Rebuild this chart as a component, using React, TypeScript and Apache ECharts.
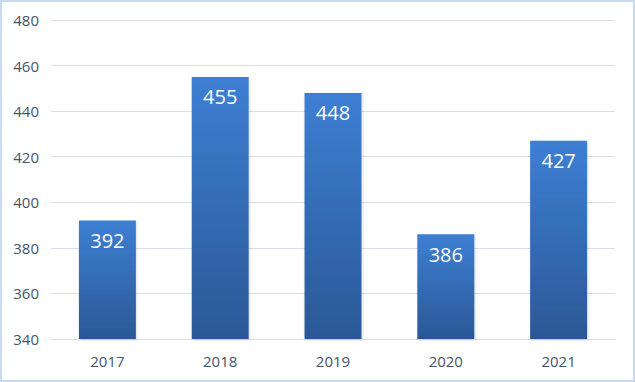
import React, { useEffect, useRef } from "react";
import * as echarts from "echarts";

const years = ["2017", "2018", "2019", "2020", "2021"];
const values = [392, 455, 448, 386, 427];
const yMin = 340;
const yMax = 480;
const yStep = 20;

export default function App() {
  const ref = useRef<HTMLDivElement>(null);
  useEffect(() => {
    if (!ref.current) return;
    const chart = echarts.init(ref.current, null, { renderer: "svg" });
    chart.setOption({
      animation: false,
      backgroundColor: "#ffffff",
      textStyle: { fontFamily: "Open Sans" },
      grid: { left: 49, right: 18, top: 18, bottom: 41, containLabel: false },
      xAxis: {
        type: "category",
        data: years,
        axisLine: { show: true, lineStyle: { color: "#d6dfeb", width: 1 } },
        axisTick: { show: false },
        axisLabel: { color: "#44546a", fontSize: 15, margin: 14, fontFamily: "Open Sans" },
      },
      yAxis: {
        type: "value",
        min: yMin,
        max: yMax,
        interval: yStep,
        axisLine: { show: false },
        axisTick: { show: false },
        splitLine: { lineStyle: { color: "#d6dfeb", width: 1 } },
        axisLabel: { color: "#44546a", fontSize: 15, margin: 12, fontFamily: "Open Sans" },
      },
      series: [
        {
          type: "bar",
          data: values,
          barWidth: "50.5%",
          itemStyle: {
            color: new echarts.graphic.LinearGradient(0, 0, 0, 1, [
              { offset: 0, color: "#3d7fd3" },
              { offset: 1, color: "#2b5896" },
            ]),
            shadowColor: "rgba(0,0,0,0.15)",
            shadowBlur: 3,
            shadowOffsetX: 1,
            shadowOffsetY: 1,
          },
          label: {
            show: true,
            position: "insideTop",
            distance: 10,
            color: "#ffffff",
            fontSize: 20,
            fontFamily: "Open Sans",
          },
        },
      ],
    });
    return () => chart.dispose();
  }, []);
  return (
    <div
      style={{
        position: "absolute",
        left: 0,
        top: 0,
        width: 635,
        height: 382,
        boxSizing: "border-box",
        border: "2px solid #c9d9ee",
        background: "#ffffff",
      }}
    >
      <div ref={ref} style={{ width: 631, height: 378 }} />
    </div>
  );
}
